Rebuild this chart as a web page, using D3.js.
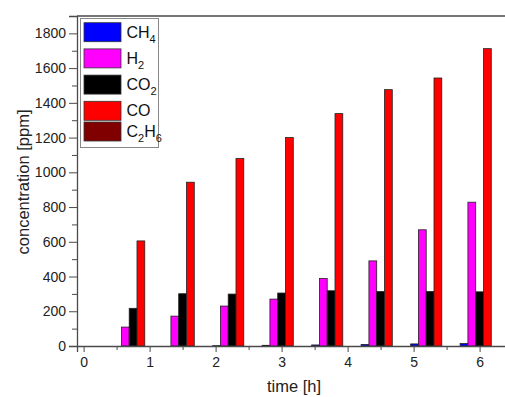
<!DOCTYPE html>
<html>
<head>
<meta charset="utf-8">
<script src="https://cdn.jsdelivr.net/npm/d3@7"></script>
<style>
  html, body { margin: 0; padding: 0; background: #fff; }
  svg { display: block; font-family: "Liberation Sans", Arial, sans-serif; }
</style>
</head>
<body>
<svg id="chart" width="505" height="397"></svg>
<script>
// Sampling times (h)
const times = [0.75, 1.5, 2.25, 3, 3.75, 4.5, 5.25, 6];

// Gas concentrations (ppm) at each sampling time
const ch4  = [0, 0, 2, 4, 6, 9, 12, 14];
const h2   = [109, 172, 230, 270, 389, 490, 669, 828];
const co2  = [217, 301, 299, 305, 318, 314, 314, 312];
const co   = [605, 943, 1079, 1200, 1338, 1476, 1543, 1712];
const c2h6 = [0, 0, 0, 0, 0, 0, 0, 0];

const seriesNames  = ["CH4", "H2", "CO2", "CO", "C2H6"];
const seriesValues = [ch4, h2, co2, co, c2h6];
const seriesColors = ["#0000ff", "#ff00ff", "#000000", "#ff0000", "#800000"];

const xTicks = [0, 1, 2, 3, 4, 5, 6];
const yTicks = [0, 200, 400, 600, 800, 1000, 1200, 1400, 1600, 1800];

const svg = d3.select("#chart");
const plotLeft = 77, plotTop = 16, plotBottom = 346;

const x = d3.scaleLinear().domain([-0.1, 6.5]).range([plotLeft, plotLeft + 6.6 * 66]);
const y = d3.scaleLinear().domain([0, 1900]).range([plotBottom, plotTop]);

const barW = 0.118; // bar width in hours
const frame = "#4a4a4a";

// Bars: five series side by side around each sampling time
seriesValues.forEach((vals, si) => {
  svg.append("g")
    .selectAll("rect")
    .data(vals.map((v, i) => ({ t: times[i], v })))
    .join("rect")
    .attr("x", d => x(d.t + (si - 2.5) * barW))
    .attr("width", d => x(d.t + (si - 1.5) * barW) - x(d.t + (si - 2.5) * barW))
    .attr("y", d => y(d.v))
    .attr("height", d => y(0) - y(d.v))
    .attr("fill", seriesColors[si])
    .attr("stroke", "#222")
    .attr("stroke-width", 0.8);
});

// Axes
const yAxis = svg.append("g")
  .attr("transform", `translate(${plotLeft},0)`)
  .call(d3.axisLeft(y).tickValues(yTicks).tickSize(8).tickPadding(3).tickFormat(d3.format("d")));
const yMinor = svg.append("g")
  .attr("transform", `translate(${plotLeft},0)`)
  .call(d3.axisLeft(y).tickValues(d3.range(100, 1900, 200)).tickSize(5).tickFormat(""));

const xAxis = svg.append("g")
  .attr("transform", `translate(0,${plotBottom})`)
  .call(d3.axisBottom(x).tickValues(xTicks).tickSize(6).tickPadding(5).tickFormat(d3.format("d")));
const xMinor = svg.append("g")
  .attr("transform", `translate(0,${plotBottom})`)
  .call(d3.axisBottom(x).tickValues(d3.range(0.5, 6.5, 1)).tickSize(4).tickFormat(""));

[yAxis, yMinor, xAxis, xMinor].forEach(g => {
  g.select(".domain").attr("stroke", frame).attr("stroke-width", 1.3);
  g.selectAll(".tick line").attr("stroke", frame).attr("stroke-width", 1);
  g.selectAll(".tick text").attr("fill", "#222").attr("font-size", 14)
    .attr("font-family", "'Liberation Sans', Arial, sans-serif");
});
yMinor.select(".domain").remove();
xMinor.select(".domain").remove();

// Top frame line
svg.append("line")
  .attr("x1", plotLeft).attr("x2", x.range()[1])
  .attr("y1", plotTop).attr("y2", plotTop)
  .attr("stroke", frame).attr("stroke-width", 1.3);

// Axis titles
svg.append("text")
  .attr("x", 294).attr("y", 392)
  .attr("text-anchor", "middle").attr("font-size", 16.5).attr("fill", "#222")
  .text("time [h]");

svg.append("text")
  .attr("transform", "translate(29,182) rotate(-90)")
  .attr("text-anchor", "middle").attr("font-size", 16.5).attr("fill", "#222")
  .text("concentration [ppm]");

// Legend
const legend = svg.append("g");
legend.append("rect")
  .attr("x", 80.5).attr("y", 18.5).attr("width", 78).attr("height", 129)
  .attr("fill", "#fff").attr("stroke", "#888").attr("stroke-width", 1);

let rowTop = 22.7;
seriesNames.forEach((name, i) => {
  const hasSub = /\d/.test(name);
  const g = legend.append("g").attr("transform", `translate(0,${rowTop})`);
  g.append("rect")
    .attr("x", 84).attr("y", 0).attr("width", 37).attr("height", 19)
    .attr("fill", seriesColors[i]).attr("stroke", "#333").attr("stroke-width", 0.8);
  const t = g.append("text").attr("x", 126.5).attr("y", 15)
    .attr("font-size", 16).attr("fill", "#111");
  // digits in the formula are set as subscripts
  let shifted = false;
  (name.match(/\d+|\D+/g)).forEach(part => {
    const isSub = /\d/.test(part);
    const ts = t.append("tspan").text(part);
    if (isSub) {
      ts.attr("font-size", 11).attr("dy", 5);
      shifted = true;
    } else if (shifted) {
      ts.attr("dy", -5);
      shifted = false;
    }
  });
  rowTop += hasSub ? 26.2 : 20.7;
});
</script>
</body>
</html>
